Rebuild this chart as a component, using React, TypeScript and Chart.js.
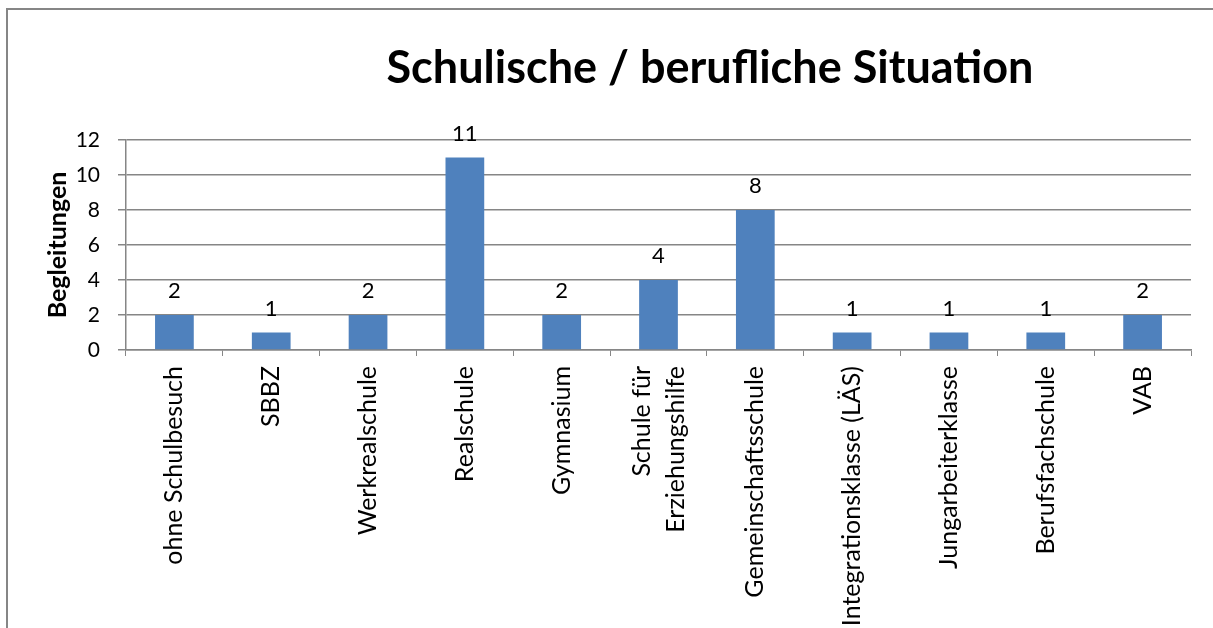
import React, { useEffect, useRef } from "react";
import { Chart, registerables } from "chart.js";

Chart.register(...registerables);

const categories: (string | string[])[] = [
  "ohne Schulbesuch",
  "SBBZ",
  "Werkrealschule",
  "Realschule",
  "Gymnasium",
  ["Schule für", "Erziehungshilfe"],
  "Gemeinschaftsschule",
  "Integrationsklasse (LÄS)",
  "Jungarbeiterklasse",
  "Berufsfachschule",
  "VAB",
];
const values: number[] = [2, 1, 2, 11, 2, 4, 8, 1, 1, 1, 2];
const yTicks: number[] = [0, 2, 4, 6, 8, 10, 12];
const titleText = "Schulische / berufliche Situation";
const yTitle = "Begleitungen";

const FONT = "Lato, 'Open Sans', sans-serif";

export default function App() {
  const ref = useRef<HTMLCanvasElement | null>(null);
  useEffect(() => {
    if (!ref.current) return;
    const framePlugin = {
      id: "frame",
      beforeDraw(chart: any) {
        const ctx = chart.ctx;
        ctx.save();
        ctx.fillStyle = "#ffffff";
        ctx.fillRect(0, 0, chart.width, chart.height);
        ctx.strokeStyle = "#868686";
        ctx.lineWidth = 2;
        ctx.strokeRect(7, 9, chart.width + 20, chart.height + 20);
        ctx.restore();
      },
      afterDraw(chart: any) {
        const ctx = chart.ctx;
        ctx.save();
        ctx.fillStyle = "#000000";
        ctx.font = `bold 45px ${FONT}`;
        ctx.textAlign = "center";
        ctx.textBaseline = "middle";
        ctx.fillText(titleText, 710, 68);
        // data labels
        ctx.font = `22px ${FONT}`;
        ctx.textBaseline = "bottom";
        const meta = chart.getDatasetMeta(0);
        meta.data.forEach((bar: any, i: number) => {
          ctx.fillText(String(values[i]), bar.x, bar.y - 13);
        });
        // category labels (rotated, multi-line centred on tick)
        const xs = chart.scales.x;
        const top = chart.chartArea.bottom + 16;
        ctx.font = `25px ${FONT}`;
        ctx.textAlign = "right";
        ctx.textBaseline = "middle";
        categories.forEach((c, i) => {
          const lines = Array.isArray(c) ? c : [c];
          const px = xs.getPixelForTick(i);
          ctx.save();
          ctx.translate(px, top);
          ctx.rotate(-Math.PI / 2);
          lines.forEach((ln, j) => {
            ctx.fillText(ln, 0, (j - (lines.length - 1) / 2) * 34);
          });
          ctx.restore();
        });
        ctx.restore();
      },
    };
    const chart = new Chart(ref.current, {
      type: "bar",
      data: {
        labels: categories,
        datasets: [
          {
            data: values,
            backgroundColor: "#4F81BD",
            barPercentage: 0.4,
            categoryPercentage: 1,
          },
        ],
      },
      options: {
        animation: false,
        responsive: false,
        maintainAspectRatio: false,
        layout: { padding: { left: 0, top: 140, right: 22, bottom: 0 } },
        plugins: {
          legend: { display: false },
          title: { display: false },
          tooltip: { enabled: false },
        },
        scales: {
          x: {
            afterFit(scale: any) {
              scale.height = 278;
            },
            grid: {
              display: true,
              drawOnChartArea: false,
              drawTicks: true,
              tickLength: 6,
              color: "#868686",
              offset: true,
            },
            border: { display: true, color: "#868686", width: 1.5 },
            ticks: {
              display: false,
              autoSkip: false,
            },
          },
          y: {
            min: 0,
            max: 12,
            afterFit(scale: any) {
              scale.width = 126;
            },
            afterBuildTicks(scale: any) {
              scale.ticks = yTicks.map((v) => ({ value: v }));
            },
            grid: {
              color: "#868686",
              lineWidth: 1.5,
              tickLength: 8,
            },
            border: { display: true, color: "#868686", width: 1.5 },
            ticks: {
              color: "#000000",
              font: { family: FONT, size: 21 },
              padding: 18,
            },
            title: {
              display: true,
              text: yTitle,
              color: "#000000",
              font: { family: FONT, size: 25, weight: "bold" },
              padding: { top: 43, bottom: 0 },
            },
          },
        },
      },
      plugins: [framePlugin],
    });
    return () => chart.destroy();
  }, []);
  return (
    <div style={{ position: "absolute", left: 0, top: 0, width: 1213, height: 628, background: "#fff" }}>
      <canvas ref={ref} width={1213} height={628} style={{ display: "block" }} />
    </div>
  );
}
